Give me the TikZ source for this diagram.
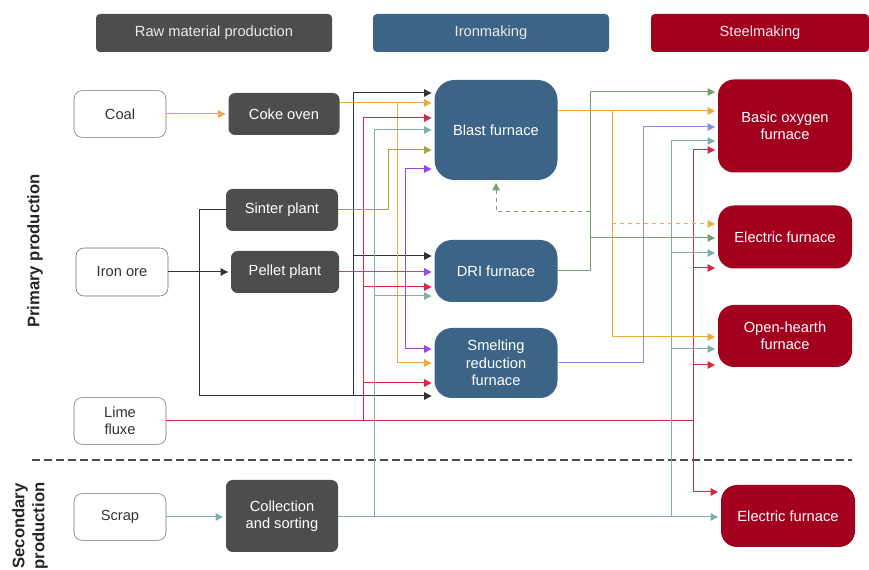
\documentclass[tikz,border=0pt]{standalone}
\usepackage{fontspec}
\setmainfont{Liberation Sans}
\usepackage{tikz}
\usetikzlibrary{arrows.meta,positioning,calc}
\definecolor{rawgrey}{RGB}{77,77,77}
\definecolor{ironblue}{RGB}{60,100,134}
\definecolor{steelred}{RGB}{162,0,28}
\definecolor{boxline}{RGB}{110,110,110}
\definecolor{oregrey}{RGB}{50,50,50}
\definecolor{cokeorange}{RGB}{240,170,60}
\definecolor{limered}{RGB}{215,40,65}
\definecolor{scrapteal}{RGB}{125,175,175}
\definecolor{sinterolive}{RGB}{165,165,60}
\definecolor{pelletpurple}{RGB}{150,70,230}
\definecolor{drigreen}{RGB}{120,160,110}
\definecolor{smeltlav}{RGB}{140,140,230}
\tikzset{
  hdr/.style={rounded corners=3pt, text=white!92!black, minimum width=177pt, minimum height=28.5pt},
  srcbox/.style={draw=boxline, fill=white, rounded corners=6pt, text=black!80, align=center,
    minimum width=69pt, minimum height=35pt, inner sep=1pt},
  rawbox/.style={fill=rawgrey, rounded corners=5pt, text=white, align=center,
    minimum width=84pt, minimum height=31.5pt, inner sep=1pt},
  ironbox/.style={fill=ironblue, rounded corners=13pt, text=white, align=center,
    minimum width=92.25pt, inner sep=1pt},
  steelbox/.style={fill=steelred, rounded corners=12pt, text=white, align=center,
    minimum width=100.5pt, inner sep=1pt},
  flow/.style={draw=#1, line width=0.75pt, -{Triangle[length=5.5pt,width=5.5pt]}, shorten >=2pt},
  sidelbl/.style={rotate=90, font=\fontsize{12.5}{15}\selectfont\bfseries, text=black!85, align=center}
}

\begin{document}
\begin{tikzpicture}[x=0.75pt, y=-0.75pt, font=\fontsize{11}{13}\selectfont]
  \useasboundingbox (0,0) rectangle (869,570);

  % Column headers
  \node[hdr, fill=rawgrey] (hraw) at (214,33) {Raw material production};
  \node[hdr, fill=ironblue] (hiron) at (491,33) {Ironmaking};
  \node[hdr, fill=steelred, minimum width=163.5pt] (hsteel) at (760,33) {Steelmaking};

  % Side labels and split
  \node[sidelbl] (prim) at (35,251) {Primary production};
  \node[sidelbl] (second) at (30,526) {Secondary\\production};
  \draw[rawgrey, line width=1.5pt, dash pattern=on 6pt off 3pt] (32,460) -- (852,460);

  % Raw materials
  \node[srcbox] (coal) at (120,114) {Coal};
  \node[srcbox, minimum height=36pt] (ore) at (122,272) {Iron ore};
  \node[srcbox] (lime) at (120,421) {Lime\\fluxe};
  \node[srcbox] (scrap) at (120,517) {Scrap};

  \node[rawbox, minimum width=83.25pt] (coke) at (284,114) {Coke oven};
  \node[rawbox] (sinter) at (282,210) {Sinter plant};
  \node[rawbox, minimum width=81pt] (pellet) at (285,272) {Pellet plant};
  \node[rawbox, minimum height=54pt] (coll) at (282,516) {Collection\\and sorting};

  % Ironmaking
  \node[ironbox, minimum height=75pt, rounded corners=15pt] (bf) at (496,130) {Blast furnace};
  \node[ironbox, minimum height=46.5pt] (dri) at (496,271) {DRI furnace};
  \node[ironbox, minimum height=52.5pt] (smelt) at (496,363) {Smelting\\reduction\\furnace};

  % Steelmaking
  \node[steelbox, minimum height=69.75pt] (bof) at (785,126) {Basic oxygen\\furnace};
  \node[steelbox, minimum height=47.25pt] (ef) at (785,237) {Electric furnace};
  \node[steelbox, minimum height=46.5pt] (oh) at (785,336) {Open-hearth\\furnace};
  \node[steelbox, minimum height=46.5pt] (ef2) at (788,516) {Electric furnace};

  % Feeds into raw material plants
  \draw[flow=cokeorange] (coal) -- (coke);
  \draw[flow=oregrey] (ore) -- (pellet);
  \draw[flow=scrapteal] (scrap.east) -- (coll.west |- scrap.east);

  % Iron ore bus
  \draw[flow=oregrey] (sinter.west) -| (199,396) -- (smelt.west |- 0,396);
  \draw[flow=oregrey] (353,396) |- (bf.west |- 0,93);
  \draw[flow=oregrey] (353,256) -- (dri.west |- 0,256);

  % Coke
  \draw[flow=cokeorange] (coke.east |- 0,103) -- (bf.west |- 0,103);
  \draw[flow=cokeorange] (397,103) |- (smelt.west |- 0,363);

  % Lime
  \draw[limered, line width=0.75pt] (lime.east) -- (693,421);
  \draw[flow=limered] (363,421) |- (bf.west |- 0,118);
  \draw[flow=limered] (363,287) -- (dri.west |- 0,287);
  \draw[flow=limered] (363,383) -- (smelt.west |- 0,383);
  \draw[flow=limered] (693,421) |- (bof.west |- 0,150);
  \draw[flow=limered] (693,268) -- (ef.west |- 0,268);
  \draw[flow=limered] (693,365) -- (oh.west |- 0,365);
  \draw[flow=limered] (693,421) |- (ef2.west |- 0,492);

  % Scrap
  \draw[flow=scrapteal] (coll.east |- scrap.east) -- (ef2.west |- scrap.east);
  \draw[flow=scrapteal] (374,517) |- (bf.west |- 0,130);
  \draw[flow=scrapteal] (374,296) -- (dri.west |- 0,296);
  \draw[flow=scrapteal] (671,517) |- (bof.west |- 0,141);
  \draw[flow=scrapteal] (671,253) -- (ef.west |- 0,253);
  \draw[flow=scrapteal] (671,349) -- (oh.west |- 0,349);

  % Sinter and pellets
  \draw[flow=sinterolive] (sinter.east) -| (388,150) -- (bf.west |- 0,150);
  \draw[flow=pelletpurple] (pellet.east) -- (dri.west |- pellet.east);
  \draw[flow=pelletpurple] (405,272) |- (bf.west |- 0,169);
  \draw[flow=pelletpurple] (405,272) |- (smelt.west |- 0,349);

  % DRI
  \draw[flow=drigreen] (dri.east) -| (590,92) -- (bof.west |- 0,92);
  \draw[flow=drigreen] (590,238) -- (ef.west |- 0,238);
  \draw[flow=drigreen, dashed] (590,212) -| (bf.south);

  % Hot metal
  \draw[flow=cokeorange] (bf.east |- 0,111) -- (bof.west |- 0,111);
  \draw[flow=cokeorange] (612,111) |- (oh.west |- 0,337);
  \draw[flow=cokeorange, dashed] (612,224) -- (ef.west |- 0,224);
  \draw[flow=smeltlav] (smelt.east) -| (643,127) -- (bof.west |- 0,127);
\end{tikzpicture}
\end{document}
